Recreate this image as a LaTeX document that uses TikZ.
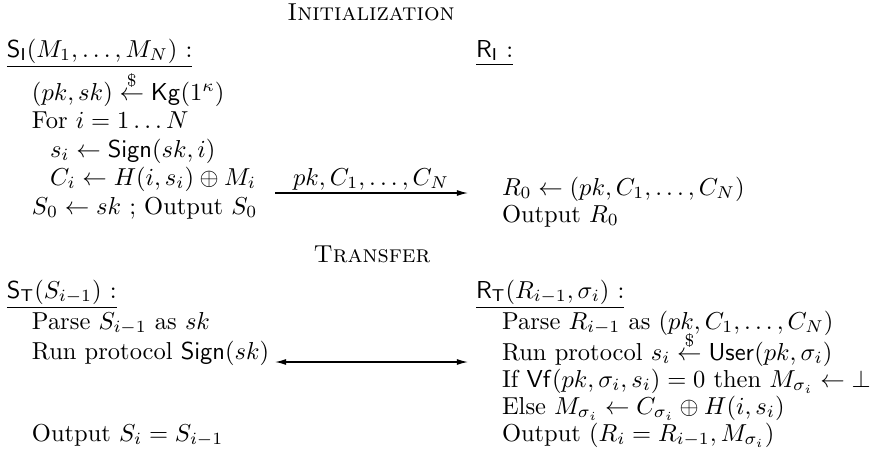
\documentclass[tikz,border=0pt]{standalone}
\usepackage{amsmath,amssymb}
\usetikzlibrary{arrows.meta}
\begin{document}
\begin{tikzpicture}[x=0.408163pt,y=-0.408163pt,
  txt/.style={anchor=base west,inner sep=0pt,outer sep=0pt},
  ttl/.style={anchor=base,inner sep=0pt,outer sep=0pt,font=\scshape},
  lbl/.style={anchor=base,inner sep=0pt,outer sep=0pt},
  msg/.style={line width=0.5pt,-{Latex[length=4.5pt,width=2.4pt]}},
  bimsg/.style={line width=0.5pt,{Latex[length=4.5pt,width=2.4pt]}-{Latex[length=4.5pt,width=2.4pt]}}]
\useasboundingbox (0,0) rectangle (870,464);
% ---------- Initialization ----------
\node[ttl] (t1) at (371,20) {Initialization};
\node[txt] (sI) at (7,57) {\underline{$\mathsf{S}_{\mathsf{I}}(M_1,\ldots,M_N)$ :}};
\node[txt] (rI) at (476,57) {\underline{$\mathsf{R}_{\mathsf{I}}$ :}};
\node[txt] (l1) at (32,100) {$(pk,sk)\stackrel{\$}{\leftarrow}\mathsf{Kg}(1^\kappa)$};
\node[txt] (l2) at (32,128) {For $i=1\ldots N$};
\node[txt] (l3) at (50,157) {$s_i\leftarrow\mathsf{Sign}(sk,i)$};
\node[txt] (l4) at (50,185) {$C_i\leftarrow H(i,s_i)\oplus M_i$};
\node[txt] (l5) at (32,214) {$S_0\leftarrow sk$ ; Output $S_0$};
\node[txt] (r1) at (502,195) {$R_0\leftarrow(pk,C_1,\ldots,C_N)$};
\node[txt] (r2) at (502,222) {Output $R_0$};
\coordinate (a1s) at (275,193);
\coordinate (a1e) at (468,193);
\draw[msg] (a1s) -- (a1e);
\node[lbl] (lab1) at (371,185) {$pk,C_1,\ldots,C_N$};
% ---------- Transfer ----------
\node[ttl] (t2) at (372,262) {Transfer};
\node[txt] (sT) at (7,298) {\underline{$\mathsf{S}_{\mathsf{T}}(S_{i-1})$ :}};
\node[txt] (rT) at (476,298) {\underline{$\mathsf{R}_{\mathsf{T}}(R_{i-1},\sigma_i)$ :}};
\node[txt] (p1) at (32,329) {Parse $S_{i-1}$ as $sk$};
\node[txt] (p2) at (32,359) {Run protocol $\mathsf{Sign}(sk)$};
\node[txt] (p3) at (32,441) {Output $S_i=S_{i-1}$};
\node[txt] (q1) at (502,329) {Parse $R_{i-1}$ as $(pk,C_1,\ldots,C_N)$};
\node[txt] (q2) at (502,360) {Run protocol $s_i\stackrel{\$}{\leftarrow}\mathsf{User}(pk,\sigma_i)$};
\node[txt] (q3) at (502,387) {If $\mathsf{Vf}(pk,\sigma_i,s_i)=0$ then $M_{\sigma_i}\leftarrow\bot$};
\node[txt] (q4) at (502,414) {Else $M_{\sigma_i}\leftarrow C_{\sigma_i}\oplus H(i,s_i)$};
\node[txt] (q5) at (502,441) {Output $(R_i=R_{i-1},M_{\sigma_i})$};
\coordinate (a2s) at (275,362);
\coordinate (a2e) at (468,362);
\draw[bimsg] (a2s) -- (a2e);
\end{tikzpicture}
\end{document}
